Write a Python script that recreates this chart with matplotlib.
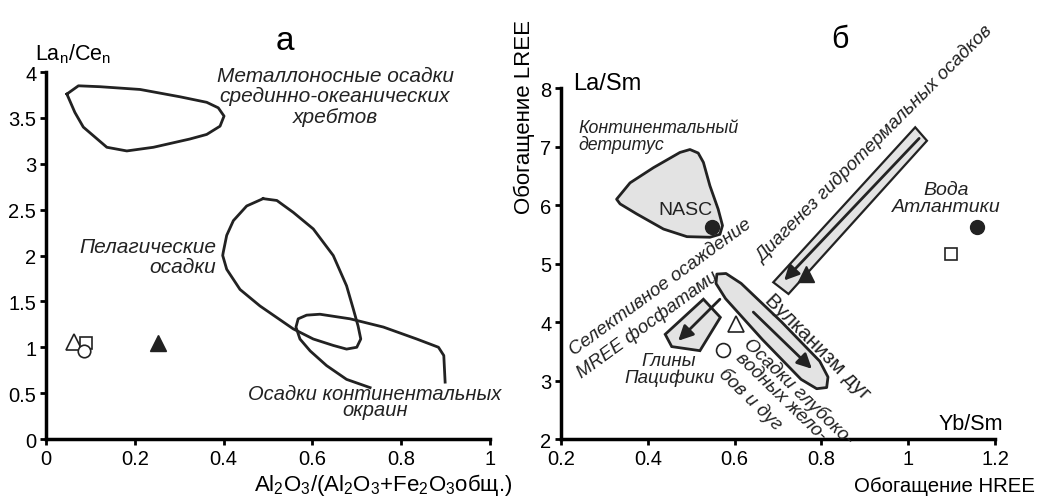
import numpy as np
import matplotlib
matplotlib.use("Agg")
from matplotlib import pyplot as plt
from matplotlib.patches import Polygon

plt.rcParams['font.family'] = ['Liberation Sans', 'DejaVu Sans']
plt.rcParams['mathtext.fontset'] = 'custom'
plt.rcParams['mathtext.rm'] = 'Liberation Sans'
plt.rcParams['mathtext.it'] = 'Liberation Sans:italic'

# ---- panel a: La/Ce vs Al/(Al+Fe) ----
metal_x = [0.047, 0.073, 0.122, 0.212, 0.302, 0.362, 0.388, 0.401, 0.392, 0.362,
           0.324, 0.242, 0.182, 0.137, 0.084, 0.065, 0.047]
metal_y = [3.76, 3.85, 3.84, 3.81, 3.73, 3.67, 3.61, 3.52, 3.41, 3.32,
           3.27, 3.18, 3.14, 3.18, 3.40, 3.56, 3.76]

pelag_x = [0.489, 0.520, 0.557, 0.602, 0.647, 0.677, 0.692, 0.703, 0.709, 0.700,
           0.677, 0.647, 0.602, 0.557, 0.482, 0.437, 0.407, 0.398, 0.399, 0.407,
           0.422, 0.452, 0.489]
pelag_y = [2.62, 2.60, 2.47, 2.29, 2.00, 1.67, 1.42, 1.23, 1.09, 1.00,
           0.98, 1.02, 1.09, 1.20, 1.45, 1.63, 1.85, 2.00, 2.03, 2.22,
           2.38, 2.54, 2.62]

margin_x = [0.730, 0.677, 0.632, 0.595, 0.572, 0.563, 0.568, 0.587, 0.617, 0.685,
            0.760, 0.835, 0.884, 0.896, 0.899]
margin_y = [0.56, 0.65, 0.80, 0.96, 1.09, 1.22, 1.31, 1.35, 1.36, 1.31,
            1.22, 1.09, 1.00, 0.91, 0.62]

# samples: open triangle, open square, open circle, filled triangle
a_tri_open = (0.063, 1.06)
a_sq_open = (0.090, 1.05)
a_circ_open = (0.086, 0.96)
a_tri_fill = (0.252, 1.05)

# ---- panel b: La/Sm vs Yb/Sm ----
detr_x = [0.328, 0.359, 0.413, 0.474, 0.497, 0.516, 0.528, 0.543, 0.562, 0.572,
          0.566, 0.543, 0.490, 0.436, 0.374, 0.336]
detr_y = [6.10, 6.38, 6.64, 6.90, 6.95, 6.89, 6.73, 6.33, 5.93, 5.65,
          5.50, 5.45, 5.46, 5.59, 5.85, 6.02]

hydro_x = [0.689, 0.724, 1.043, 1.016]
hydro_y = [4.68, 4.48, 7.10, 7.33]
hydro_arrow = ((1.025, 7.14), (0.714, 4.71))

arc_x = [0.559, 0.580, 0.615, 0.707, 0.796, 0.815, 0.812, 0.789, 0.753, 0.664, 0.579, 0.557]
arc_y = [4.82, 4.83, 4.66, 4.01, 3.33, 3.06, 2.88, 2.86, 3.02, 3.70, 4.40, 4.66]
arc_arrow = ((0.643, 4.17), (0.778, 3.20))

pacif_x = [0.528, 0.567, 0.520, 0.455, 0.440]
pacif_y = [4.39, 4.08, 3.51, 3.58, 3.79]
pacif_arrow = ((0.566, 4.39), (0.470, 3.68))

nasc = (0.547, 5.62)
atlantic = (1.158, 5.62)
b_tri_fill = (0.765, 4.82)
b_tri_open = (0.603, 3.97)
b_circ_open = (0.572, 3.53)
b_sq_open = (1.099, 5.16)

fig = plt.figure(figsize=(10.53, 5.02), dpi=100)
axa = fig.add_axes([0.0437, 0.1235, 0.4216, 0.731])
axb = fig.add_axes([0.5328, 0.1235, 0.4122, 0.699])

for ax in (axa, axb):
    for s in ('top', 'right'):
        ax.spines[s].set_visible(False)
    for s in ('left', 'bottom'):
        ax.spines[s].set_linewidth(2.5)
    ax.tick_params(direction='out', length=4, width=2, labelsize=14.5, pad=3)

lc = '#222222'
axa.plot(metal_x, metal_y, color=lc, lw=2)
axa.plot(pelag_x, pelag_y, color=lc, lw=2)
axa.plot(margin_x, margin_y, color=lc, lw=2)
axa.plot(*a_tri_open, marker='^', ms=11, mfc='white', mec=lc, mew=1.2)
axa.plot(*a_sq_open, marker='s', ms=9, mfc='white', mec=lc, mew=1.2)
axa.plot(*a_circ_open, marker='o', ms=9, mfc='white', mec=lc, mew=1.2)
axa.plot(*a_tri_fill, marker='^', ms=11, color=lc)

axa.set_xlim(0, 1)
axa.set_ylim(0, 4)
axa.set_xticks([0, 0.2, 0.4, 0.6, 0.8, 1])
axa.set_xticklabels(['0', '0.2', '0.4', '0.6', '0.8', '1'])
axa.set_yticks([0, 0.5, 1, 1.5, 2, 2.5, 3, 3.5, 4])
axa.set_yticklabels(['0', '0.5', '1', '1.5', '2', '2.5', '3', '3.5', '4'])

ita = dict(style='italic', fontsize=15, color=lc)
itb = dict(style='italic', fontsize=13.5, color=lc)
axa.text(0.651, 3.74, 'Металлоносные осадки\nсрединно-океанических\nхребтов',
         ha='center', va='center', linespacing=1.1, **ita)
axa.text(0.384, 1.99, 'Пелагические\nосадки', ha='right', va='center',
         multialignment='right', linespacing=1.1, **ita)
axa.text(0.741, 0.41, 'Осадки континентальных\nокраин', ha='center', va='center',
         linespacing=0.85, fontsize=14.5, style='italic', color=lc)
fig.text(285 / 1053, 1 - 41 / 502, 'а', fontsize=24, ha='center', va='center')
fig.text(35 / 1053, 1 - 54 / 502, r'La$_\mathregular{n}$/Ce$_\mathregular{n}$',
         fontsize=15.5, ha='left', va='center')
fig.text(383 / 1053, 1 - 485 / 502, r'Al$_2$O$_3$/(Al$_2$O$_3$+Fe$_2$O$_3$общ.)',
         fontsize=16, ha='center', va='center')

# panel b
gray = '#e3e3e3'
axb.add_patch(Polygon(np.column_stack([detr_x, detr_y]), closed=True, fc=gray, ec=lc, lw=2,
                      joinstyle='round'))
axb.add_patch(Polygon(np.column_stack([hydro_x, hydro_y]), closed=True, fc=gray, ec=lc, lw=1.6))
axb.add_patch(Polygon(np.column_stack([arc_x, arc_y]), closed=True, fc=gray, ec=lc, lw=2,
                      joinstyle='round'))
axb.add_patch(Polygon(np.column_stack([pacif_x, pacif_y]), closed=True, fc=gray, ec=lc, lw=2))

for start, end in (hydro_arrow, arc_arrow, pacif_arrow):
    axb.annotate('', xy=end, xytext=start,
                 arrowprops=dict(arrowstyle='-|>', color=lc, lw=2, mutation_scale=22,
                                 shrinkA=0, shrinkB=0))

axb.plot(*nasc, marker='o', ms=10, color=lc)
axb.plot(*atlantic, marker='o', ms=10, color=lc)
axb.plot(*b_tri_fill, marker='^', ms=11, color=lc)
axb.plot(*b_tri_open, marker='^', ms=12, mfc='white', mec=lc, mew=1.2)
axb.plot(*b_circ_open, marker='o', ms=10, mfc='white', mec=lc, mew=1.2)
axb.plot(*b_sq_open, marker='s', ms=9, mfc='white', mec=lc, mew=1.2)

axb.set_xlim(0.2, 1.2)
axb.set_ylim(2, 8)
axb.set_xticks([0.2, 0.4, 0.6, 0.8, 1.0, 1.2])
axb.set_xticklabels(['0.2', '0.4', '0.6', '0.8', '1', '1.2'])
axb.set_yticks([2, 3, 4, 5, 6, 7, 8])

axb.text(0.486, 5.93, 'NASC', fontsize=14, ha='center', va='center', color=lc)
axb.text(0.241, 7.18, 'Континентальный\nдетритус', ha='left', va='center',
         linespacing=0.95, style='italic', fontsize=12.8, color=lc)
axb.text(1.087, 6.12, 'Вода\nАтлантики', ha='center', va='center', linespacing=1.0,
         style='italic', fontsize=14, color=lc)
axb.text(0.449, 3.20, 'Глины\nПацифики', ha='center', va='center', linespacing=1.0, **itb)
axb.text(0.923, 7.06, 'Диагенез гидротермальных осадков', rotation=45,
         rotation_mode='anchor', ha='center', va='center', **itb)
axb.text(0.430, 4.60, 'Селективное осаждение', rotation=36,
         rotation_mode='anchor', ha='center', va='center', **itb)
axb.text(0.400, 3.97, 'MREE фосфатами', rotation=36,
         rotation_mode='anchor', ha='center', va='center', **itb)
axb.text(0.792, 3.59, 'Вулканизм дуг', rotation=-45, rotation_mode='anchor',
         ha='center', va='center', fontsize=15, color=lc)
axb.text(0.748, 2.83, 'Осадки глубоко-', rotation=-44, rotation_mode='anchor',
         ha='center', va='center', **itb)
axb.text(0.706, 2.73, 'водных жело-', rotation=-44, rotation_mode='anchor',
         ha='center', va='center', **itb)
axb.text(0.635, 2.69, 'бов и дуг', rotation=-44, rotation_mode='anchor',
         ha='center', va='center', **itb)

fig.text(607 / 1053, 1 - 84 / 502, 'La/Sm', fontsize=17, ha='center', va='center')
fig.text(971 / 1053, 1 - 425 / 502, 'Yb/Sm', fontsize=15.5, ha='center', va='center')
fig.text(840 / 1053, 1 - 40 / 502, 'б', fontsize=22, ha='center', va='center')
fig.text(945 / 1053, 1 - 487 / 502, 'Обогащение HREE', fontsize=14.7, ha='center', va='center')
fig.text(524 / 1053, 1 - 117 / 502, 'Обогащение LREE', fontsize=16, rotation=90,
         ha='center', va='center')

fig.savefig('out.png', dpi=100)
